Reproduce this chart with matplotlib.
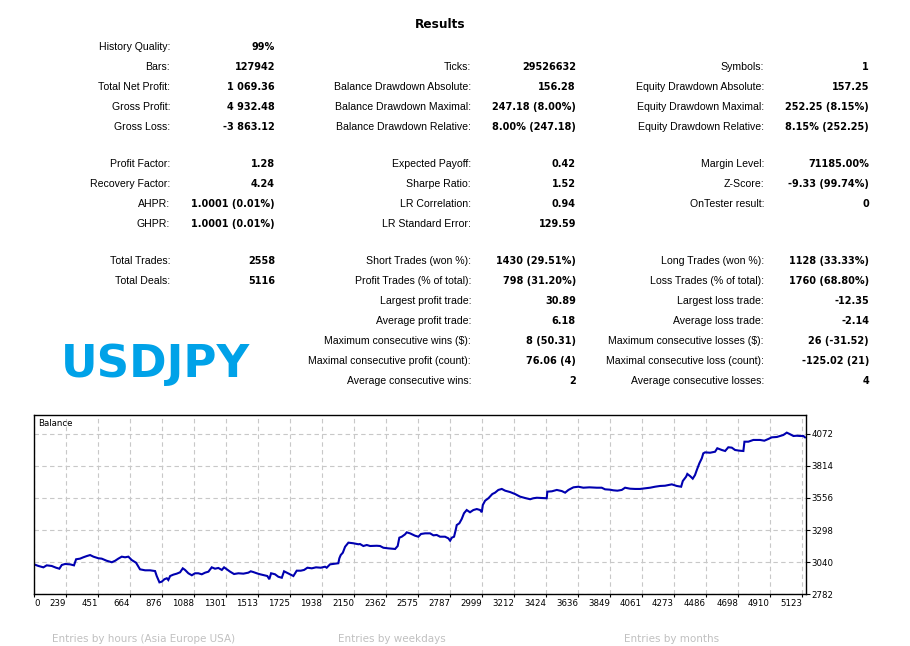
import matplotlib
matplotlib.use("Agg")
import matplotlib.pyplot as plt

W, H = 910, 646

# ---------------- data ----------------
title = "Results"
symbol = "USDJPY"

col1_labels = ["History Quality:", "Bars:", "Total Net Profit:", "Gross Profit:", "Gross Loss:",
               "Profit Factor:", "Recovery Factor:", "AHPR:", "GHPR:",
               "Total Trades:", "Total Deals:"]
col1_values = ["99%", "127942", "1 069.36", "4 932.48", "-3 863.12",
               "1.28", "4.24", "1.0001 (0.01%)", "1.0001 (0.01%)",
               "2558", "5116"]
col1_rows = [0, 1, 2, 3, 4, 5, 6, 7, 8, 9, 10]

col2_labels = ["Ticks:", "Balance Drawdown Absolute:", "Balance Drawdown Maximal:", "Balance Drawdown Relative:",
               "Expected Payoff:", "Sharpe Ratio:", "LR Correlation:", "LR Standard Error:",
               "Short Trades (won %):", "Profit Trades (% of total):", "Largest profit trade:",
               "Average profit trade:", "Maximum consecutive wins ($):",
               "Maximal consecutive profit (count):", "Average consecutive wins:"]
col2_values = ["29526632", "156.28", "247.18 (8.00%)", "8.00% (247.18)",
               "0.42", "1.52", "0.94", "129.59",
               "1430 (29.51%)", "798 (31.20%)", "30.89", "6.18", "8 (50.31)", "76.06 (4)", "2"]
col2_rows = [1, 2, 3, 4, 5, 6, 7, 8, 9, 10, 11, 12, 13, 14, 15]

col3_labels = ["Symbols:", "Equity Drawdown Absolute:", "Equity Drawdown Maximal:", "Equity Drawdown Relative:",
               "Margin Level:", "Z-Score:", "OnTester result:",
               "Long Trades (won %):", "Loss Trades (% of total):", "Largest loss trade:",
               "Average loss trade:", "Maximum consecutive losses ($):",
               "Maximal consecutive loss (count):", "Average consecutive losses:"]
col3_values = ["1", "157.25", "252.25 (8.15%)", "8.15% (252.25)",
               "71185.00%", "-9.33 (99.74%)", "0",
               "1128 (33.33%)", "1760 (68.80%)", "-12.35", "-2.14", "26 (-31.52)", "-125.02 (21)", "4"]
col3_rows = [1, 2, 3, 4, 5, 6, 7, 9, 10, 11, 12, 13, 14, 15]

# balance curve (deal number, balance)
deals = [27, 56, 89, 111, 144, 173, 195, 211, 233, 266, 292, 306, 332, 354, 377, 399, 421, 454, 476,
         509, 543, 565, 586, 609, 631, 653, 675, 704, 730, 764, 797, 830, 841, 859, 874, 892, 908, 918,
         930, 951, 974, 996, 1014, 1029, 1051, 1074, 1095, 1117, 1140, 1162, 1184, 1206, 1228, 1250,
         1273, 1288, 1306, 1328, 1354, 1383, 1416, 1449, 1465, 1482, 1505, 1527, 1549, 1575, 1588,
         1600, 1626, 1648, 1671, 1686, 1704, 1726, 1748, 1770, 1797, 1819, 1841, 1870, 1898, 1930,
         1958, 1969, 1991, 2024, 2046, 2053, 2062, 2076, 2091, 2113, 2146, 2179,
         2190, 2212, 2235, 2257, 2301, 2323, 2345, 2378, 2423, 2440, 2451, 2467, 2489, 2500, 2522,
         2555, 2577, 2595, 2622, 2655, 2677, 2699, 2721, 2754, 2776, 2788, 2799, 2814, 2825, 2832,
         2849, 2865, 2880, 2898, 2920, 2942, 2965, 2987, 2998, 3005, 3020, 3042, 3068, 3086, 3108,
         3131, 3153, 3186, 3219, 3252, 3285, 3319, 3340, 3363, 3396, 3429, 3433, 3463, 3496, 3529,
         3551, 3573, 3606, 3639, 3672, 3712,
         3761, 3794, 3816, 3849, 3871, 3898, 3927, 3949, 3982, 4015, 4048, 4082, 4115, 4148, 4181,
         4214, 4259, 4292, 4321, 4332, 4354, 4362, 4380, 4398, 4413, 4425, 4442, 4458, 4468, 4480,
         4513, 4546, 4561, 4591, 4613, 4634, 4657, 4679, 4712, 4734, 4741, 4767, 4800, 4845, 4873,
         4900, 4922, 4956, 4978, 4999, 5022, 5044, 5066, 5088, 5110, 5132, 5143]
balance = [3021, 3008, 2997, 3013, 3008, 2994, 2986, 3016, 3024, 3021, 3013, 3062, 3067, 3078, 3088,
           3096, 3083, 3070, 3067, 3050, 3038, 3050, 3067, 3083, 3078, 3083, 3056, 3034, 2981, 2973,
           2973, 2967, 2927, 2876, 2881, 2901, 2909, 2895, 2927, 2938, 2946, 2957, 2989, 2976, 2949,
           2933, 2949, 2949, 2941, 2954, 2962, 2997, 2986, 2992, 2976, 2997, 2981, 2962, 2943, 2949,
           2946, 2954, 2965, 2959, 2949, 2941, 2935, 2927, 2901, 2949, 2941, 2921, 2913, 2965, 2954,
           2941, 2927, 2970, 2970, 2976, 2994, 2989, 2997, 2994, 3002, 2994, 3021, 3026, 3030, 3070,
           3096, 3115, 3163, 3196, 3191, 3183,
           3185, 3169, 3177, 3169, 3171, 3169, 3155, 3150, 3145, 3169, 3236, 3244, 3263, 3279, 3271,
           3252, 3244, 3266, 3271, 3271, 3255, 3258, 3244, 3244, 3231, 3212, 3236, 3244, 3298, 3338,
           3352, 3387, 3433, 3459, 3441, 3459, 3467, 3459, 3441, 3500, 3534, 3554, 3588, 3599, 3621,
           3629, 3615, 3604, 3588, 3567, 3556, 3546, 3554, 3558, 3556, 3554, 3607, 3610, 3621, 3612,
           3599, 3621, 3642, 3647, 3639, 3642,
           3639, 3639, 3626, 3623, 3618, 3615, 3621, 3639, 3631, 3629, 3629, 3634, 3639, 3647, 3653,
           3655, 3666, 3653, 3647, 3693, 3728, 3750, 3733, 3712, 3741, 3782, 3836, 3876, 3916, 3924,
           3921, 3929, 3957, 3943, 3935, 3965, 3962, 3943, 3937, 3935, 4010, 4010, 4024, 4024, 4018,
           4032, 4045, 4048, 4056, 4064, 4083, 4070, 4056, 4058, 4056, 4056, 4045]

x_tick_labels = ["0", "239", "451", "664", "876", "1088", "1301", "1513", "1725", "1938", "2150",
                 "2362", "2575", "2787", "2999", "3212", "3424", "3636", "3849", "4061", "4273",
                 "4486", "4698", "4910", "5123"]
y_ticks = [2782, 3040, 3298, 3556, 3814, 4072]
bottom_titles = ["Entries by hours (Asia Europe USA)", "Entries by weekdays", "Entries by months"]

# ---------------- figure ----------------
fig = plt.figure(figsize=(W / 100, H / 100), dpi=100)
fig.patch.set_facecolor("white")

def fx(px):
    return px / W

def fy(py):
    return 1 - py / H

FONT = "DejaVu Sans"
LAB_FONT = "Liberation Sans"
FS_LAB = 7.6
FS_VAL = 7.0

fig.text(fx(440), fy(25), title, ha="center", va="center", fontsize=8.7,
         fontweight="bold", family=FONT)

row_y = [47, 67, 87, 107, 127, 164, 184, 204, 224, 261, 281, 301, 321, 341, 361, 381]
cols = [(col1_labels, col1_values, col1_rows, 170, 275),
        (col2_labels, col2_values, col2_rows, 471, 576),
        (col3_labels, col3_values, col3_rows, 764, 869)]
for labels, values, rows, lx, vx in cols:
    for lab, val, r in zip(labels, values, rows):
        y = fy(row_y[r])
        fig.text(fx(lx), y, lab, ha="right", va="center", fontsize=FS_LAB, family=LAB_FONT)
        fig.text(fx(vx), y, val, ha="right", va="center", fontsize=FS_VAL, family=FONT,
                 fontweight="bold")

fig.text(fx(61), fy(365), symbol, ha="left", va="center", fontsize=32.5,
         fontweight="bold", color="#00A2E8", family=FONT)

for t, px in zip(bottom_titles, [52, 338, 624]):
    fig.text(fx(px), fy(644), t, ha="left", va="bottom", fontsize=7.5, color="#c0c0c0",
             family=FONT)

# ---------------- balance chart ----------------
ax = fig.add_axes([fx(34), fy(594), (806 - 34) / W, (594 - 415) / H])
step_x = (int(x_tick_labels[-1]) - int(x_tick_labels[1])) / (len(x_tick_labels) - 2)
x0 = int(x_tick_labels[1]) - step_x
x1 = x0 + step_x * 772 / 32
step_y = y_ticks[1] - y_ticks[0]
y1 = y_ticks[0] + step_y * 179 / 32
ax.set_xlim(x0, x1)
ax.set_ylim(y_ticks[0], y1)

xt = [x0] + [int(v) for v in x_tick_labels[1:]]
ax.set_xticks(xt)
ax.set_xticklabels(x_tick_labels, fontsize=6.2, family=FONT)
for i, lbl in enumerate(ax.get_xticklabels()):
    lbl.set_horizontalalignment("left" if i == 0 else "right")
ax.set_yticks(y_ticks)
ax.set_yticklabels([str(v) for v in y_ticks], fontsize=6.2, family=FONT)
ax.yaxis.tick_right()
ax.tick_params(axis="y", direction="out", length=3, width=0.8, pad=1, color="black")
ax.tick_params(axis="x", direction="out", length=2, width=0.8, pad=1.5, color="black")

ax.grid(True, color="#c8c8c8", linestyle=(0, (4, 3)), linewidth=0.8)
ax.set_axisbelow(True)
for s in ax.spines.values():
    s.set_color("black")
    s.set_linewidth(1.0)

ax.plot(deals, balance, color="#0000B0", linewidth=1.5, solid_joinstyle="miter")
ax.text(0.005, 0.975, "Balance", transform=ax.transAxes, ha="left", va="top",
        fontsize=6.2, family=FONT)

fig.savefig("out.png", dpi=100, facecolor="white")
